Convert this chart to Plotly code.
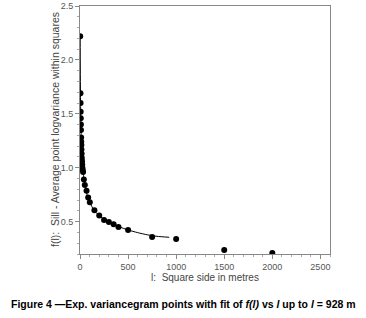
import plotly.graph_objects as go

# Experimental variancegram points
l_points = [2, 5, 6, 7, 8, 9, 10, 12, 13, 14, 15, 17, 19, 21, 23, 25, 28, 32, 40,
            50, 68, 85, 102, 150, 200, 250, 300, 350, 400, 500, 750, 1000, 1500, 2000]
f_points = [2.22, 1.69, 1.60, 1.52, 1.46, 1.40, 1.35, 1.28, 1.24, 1.21, 1.17, 1.13, 1.09, 1.06, 1.03, 1.00, 0.98, 0.96, 0.89,
            0.84, 0.787, 0.725, 0.68, 0.605, 0.558, 0.516, 0.497, 0.475, 0.451, 0.423, 0.358, 0.34, 0.238, 0.21]

# Fitted curve samples, up to l = 928 m
l_fit = [2, 5, 10, 20, 30, 50, 75, 100, 150, 200, 300, 400, 500, 600, 700, 800, 928]
f_fit = [2.22, 1.68, 1.37, 1.10, 0.98, 0.84, 0.745, 0.68, 0.60, 0.555, 0.495, 0.455, 0.423, 0.398, 0.378, 0.364, 0.355]

x_ticks = [0, 500, 1000, 1500, 2000, 2500]
y_ticks = [0.5, 1.0, 1.5, 2.0, 2.5]

fig = go.Figure()
fig.add_trace(go.Scatter(x=l_fit, y=f_fit, mode="lines",
                         line=dict(color="black", width=1, shape="spline", smoothing=0.6),
                         hoverinfo="skip", showlegend=False))
fig.add_trace(go.Scatter(x=l_points, y=f_points, mode="markers",
                         marker=dict(color="black", size=6), showlegend=False))

FAM = "Liberation Sans, Arial, sans-serif"
axis_font = dict(family=FAM, size=9, color="#555555")

fig.update_layout(
    width=366, height=318,
    margin=dict(l=80, r=36, t=6, b=64),
    paper_bgcolor="white", plot_bgcolor="white",
    font=axis_font,
    xaxis=dict(range=[0, 2600], tickvals=x_ticks, ticks="outside", ticklen=4, tickcolor="#888888",
               showline=True, linecolor="#888888", linewidth=1, mirror=True, showgrid=False, zeroline=False,
               minor=dict(dtick=100, tick0=0, ticks="outside", ticklen=2, tickcolor="#aaaaaa"),
               tickfont=axis_font, automargin=False,
               title=dict(text="l:  Square side in metres", font=dict(size=10, color="#444444", family=FAM),
                          standoff=2)),
    yaxis=dict(range=[0.2, 2.5], tickvals=y_ticks, tickformat=".1f", ticks="outside", ticklen=4, tickcolor="#888888",
               showline=True, linecolor="#888888", linewidth=1, mirror=True, showgrid=False, zeroline=False,
               minor=dict(dtick=0.1, tick0=0, ticks="outside", ticklen=2, tickcolor="#aaaaaa"),
               tickfont=axis_font, automargin=False),
)

fig.add_annotation(
    text="f(l):  Sill - Average point logvariance within squares",
    xref="paper", yref="paper", x=(55 - 80) / 250, y=(254 - 130) / 248, xanchor="center", yanchor="middle",
    textangle=-90, showarrow=False, font=dict(size=10.5, color="#444444", family=FAM))

fig.add_annotation(
    text="<b>Figure 4 \u2014Exp. variancegram points with fit of <i>f(l)</i> vs <i>l</i> up to <i>l</i> = 928 m</b>",
    xref="paper", yref="paper", x=(183 - 80) / 250, y=-42 / 248, xanchor="center", yanchor="top",
    showarrow=False, font=dict(family="Liberation Sans Narrow, Arial Narrow, Liberation Sans, sans-serif",
                               size=10.5, color="black"))

fig.write_html("out.html", config={"displayModeBar": False},
               post_script="document.body.style.margin='0';document.body.style.padding='0';")
